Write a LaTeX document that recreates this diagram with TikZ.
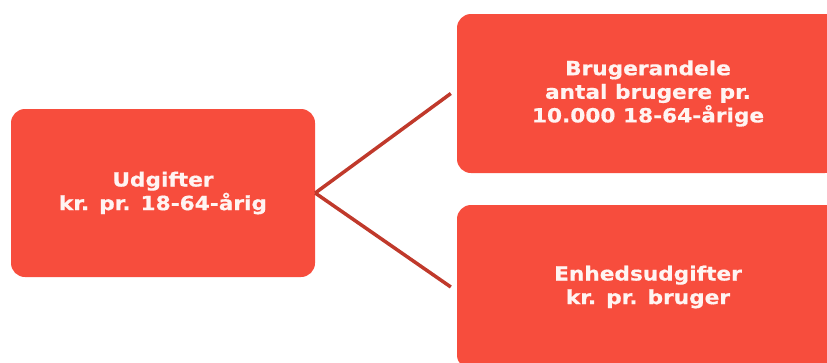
\documentclass[tikz,border=0pt]{standalone}
\usepackage{fontspec}
\setmainfont{DejaVu Sans}
\newfontfamily\boxfont[FakeStretch=1.11,FakeBold=0.6]{DejaVu Sans Bold}
\definecolor{boxred}{HTML}{F74D3D}
\definecolor{linered}{HTML}{C0392B}
\definecolor{txt}{HTML}{FFF4F2}
\tikzset{
  box/.style={fill=boxred, draw=none, rounded corners=14pt, text=txt,
    font=\boxfont\fontsize{19.5}{23.6}\selectfont, align=center, inner sep=0pt},
  link/.style={draw=linered, line width=3.5pt}
}
\begin{document}
\begin{tikzpicture}[x=1pt,y=-1pt]
\useasboundingbox (0,0) rectangle (827,362);
\clip (0,0) rectangle (827,362);
\node[box, minimum width=304pt, minimum height=168pt] (L) at (163,193) {Udgifter\\kr. pr. 18-64-årig};
\node[box, minimum width=382pt, minimum height=159pt] (T) at (648,93.5) {Brugerandele\\antal brugere pr.\\10.000 18-64-årige};
\node[box, minimum width=382pt, minimum height=164pt] (B) at (648,287) {Enhedsudgifter\\kr. pr. bruger};
\coordinate (Tin) at ([xshift=-6pt]T.west);
\coordinate (Bin) at ([xshift=-6pt]B.west);
\draw[link] (L.east) -- (Tin);
\draw[link] (L.east) -- (Bin);
\end{tikzpicture}
\end{document}
